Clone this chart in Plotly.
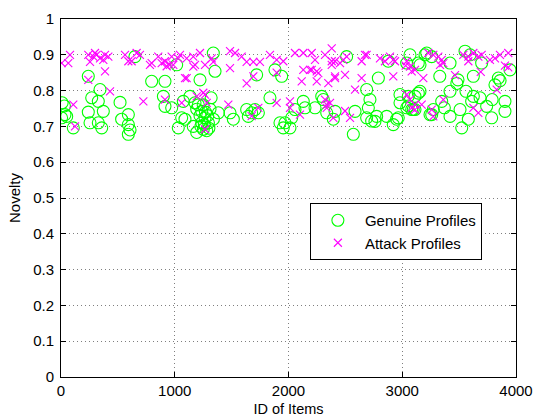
import plotly.graph_objects as go

# Genuine profiles (item id, novelty)
genuine_x = [10, 30, 35, 5, 50, 108, 240, 343, 270, 328, 240, 372, 255, 328, 358,
             519, 533, 592, 592, 607, 592, 650, 797, 914, 1017, 900, 914, 973, 1075, 1061, 1031,
             1222, 1090, 1134, 1178, 1193, 1222, 1237, 1251, 1281, 1310, 1207, 1266, 1296, 1163, 1237, 1193,
             1250, 1270, 1290, 1230, 1260, 1300, 1320, 1340,
             1339, 1354, 1720, 1881, 1940, 1837, 1925, 1969, 2028, 2130,
             1383, 1486, 1515, 1632, 1676, 1705, 1735, 1647, 1954,
             2057, 2145, 2233, 2292, 2306, 2336, 2409, 2394, 2013, 2585, 2570,
             2511, 2877, 3068, 3200, 3141, 2790, 2687, 2716, 2980, 3053, 3141, 3039, 3097, 3244,
             2687, 2760, 2863, 2921, 2965,
             2702, 2775, 2731, 2951, 2980, 3053, 3083, 3112, 3156, 3112, 3039, 3156, 3259,
             3215, 3259, 3420, 3552, 3596, 3698, 3947, 3330, 3490, 3480, 3625, 3845, 3860, 3815,
             3420, 3560, 3625, 3610, 3347, 3790, 3684, 3903, 3370, 3508, 3742, 3903, 3420, 3786, 3581, 3523, 3273]
genuine_y = [0.766, 0.757, 0.733, 0.724, 0.728, 0.696, 0.84, 0.803, 0.78, 0.77, 0.74, 0.742, 0.71, 0.71, 0.696,
             0.767, 0.72, 0.733, 0.705, 0.69, 0.678, 0.895, 0.826, 0.826, 0.872, 0.784, 0.756, 0.752, 0.77, 0.724, 0.696,
             0.83, 0.72, 0.784, 0.766, 0.748, 0.73, 0.71, 0.692, 0.688, 0.748, 0.76, 0.724, 0.71, 0.70, 0.742, 0.683,
             0.76, 0.74, 0.73, 0.70, 0.705, 0.695, 0.78, 0.72,
             0.905, 0.854, 0.844, 0.858, 0.84, 0.78, 0.71, 0.71, 0.724, 0.77,
             0.738, 0.738, 0.72, 0.747, 0.738, 0.747, 0.738, 0.728, 0.696,
             0.747, 0.752, 0.752, 0.784, 0.775, 0.738, 0.742, 0.72, 0.696, 0.742, 0.678,
             0.895, 0.882, 0.90, 0.90, 0.877, 0.835, 0.803, 0.775, 0.789, 0.784, 0.793, 0.752, 0.747, 0.733,
             0.724, 0.714, 0.728, 0.705, 0.724,
             0.752, 0.728, 0.715, 0.72, 0.766, 0.757, 0.747, 0.747, 0.798, 0.784, 0.877, 0.872, 0.733,
             0.905, 0.895, 0.877, 0.91, 0.90, 0.877, 0.858, 0.84, 0.83, 0.82, 0.84, 0.835, 0.828, 0.816,
             0.798, 0.798, 0.784, 0.77, 0.77, 0.775, 0.78, 0.77, 0.752, 0.747, 0.756, 0.742, 0.728, 0.724, 0.72, 0.696, 0.747]

# Attack profiles (item id, novelty)
attack_x = [6, 79, 64, 240, 284, 313, 343, 387, 416, 255, 299, 372,
            563, 665, 694, 592, 621, 797, 855, 914, 958, 973, 1031,
            387, 240, 431, 724, 914, 108, 123,
            1105, 782, 885, 929, 987, 1178, 1266,
            1061, 1193, 1266, 1281, 1266,
            1046, 1105, 1163, 1222, 1325, 1339, 1486, 1530, 1588, 1632, 1691, 1749, 1837, 1896, 1954, 2057, 2130,
            1163, 1486, 1090, 1691, 1632, 1896, 2130, 2116, 1896, 2013, 2013, 1251, 1676,
            1471, 1735,
            2189, 2248, 2248, 2350, 2497, 2409, 2585, 2101, 2365, 2336, 2497, 2541, 2380, 2453,
            2204, 2233, 2321, 2380, 2380, 2409, 2482, 2511, 2672, 2687, 2804, 2892, 2921, 3039, 3068, 3112,
            2204, 2262, 2409, 2643, 2921, 2321, 2336, 2394, 3039, 3112,
            2643, 2848, 2936, 3030, 3083, 3185, 3068, 3083, 3112, 3171, 3259, 3273,
            3229, 3273, 3317, 3347, 3361, 3332,
            3537, 3581, 3625, 3669, 3698, 3581,
            3771, 3815, 3859, 3932, 3903, 3932,
            3464, 3690, 3830, 3361, 3625, 3669]
attack_y = [0.877, 0.90, 0.877, 0.90, 0.895, 0.90, 0.89, 0.90, 0.895, 0.88, 0.905, 0.886,
            0.90, 0.905, 0.90, 0.882, 0.882, 0.877, 0.895, 0.882, 0.872, 0.895, 0.89,
            0.854, 0.83, 0.798, 0.77, 0.775, 0.761, 0.70,
            0.835, 0.872, 0.877, 0.868, 0.872, 0.872, 0.872,
            0.766, 0.784, 0.789, 0.766, 0.692,
            0.90, 0.89, 0.895, 0.905, 0.89, 0.88, 0.91, 0.905, 0.895, 0.88, 0.88, 0.88, 0.90, 0.886, 0.882, 0.905, 0.905,
            0.867, 0.863, 0.835, 0.84, 0.82, 0.85, 0.858, 0.826, 0.766, 0.77, 0.752, 0.794, 0.729,
            0.761, 0.752,
            0.858, 0.854, 0.826, 0.821, 0.844, 0.84, 0.803, 0.733, 0.766, 0.752, 0.743, 0.724, 0.872, 0.877,
            0.905, 0.886, 0.90, 0.918, 0.882, 0.882, 0.886, 0.895, 0.90, 0.90, 0.89, 0.895, 0.886, 0.882, 0.867, 0.858,
            0.858, 0.849, 0.835, 0.835, 0.84, 0.775, 0.761, 0.724, 0.789, 0.761,
            0.882, 0.882, 0.882, 0.87, 0.854, 0.835, 0.775, 0.752, 0.747, 0.761, 0.747, 0.728,
            0.905, 0.90, 0.895, 0.886, 0.877, 0.872,
            0.90, 0.895, 0.905, 0.895, 0.90, 0.882,
            0.886, 0.89, 0.90, 0.905, 0.87, 0.865,
            0.843, 0.852, 0.803, 0.775, 0.752, 0.738]

x_ticks = [0, 1000, 2000, 3000, 4000]
y_ticks = [0, 0.1, 0.2, 0.3, 0.4, 0.5, 0.6, 0.7, 0.8, 0.9, 1]

FONT = "Liberation Sans, Arial, sans-serif"

fig = go.Figure()
fig.add_trace(go.Scatter(
    x=genuine_x, y=genuine_y, mode="markers", name="Genuine Profiles",
    marker=dict(symbol="circle-open", size=12, color="#00ff00",
                line=dict(width=1.1, color="#00ff00")),
))
fig.add_trace(go.Scatter(
    x=attack_x, y=attack_y, mode="markers", name="Attack Profiles",
    marker=dict(symbol="x-thin", size=8, color="#ff00ff",
                line=dict(width=1.1, color="#ff00ff")),
))

axis_common = dict(
    showline=True, linecolor="black", linewidth=1, mirror="ticks",
    ticks="inside", ticklen=5, tickcolor="black", tickwidth=1,
    showgrid=True, gridcolor="rgba(0,0,0,0.5)", griddash="1px,3px", gridwidth=1,
    zeroline=False, automargin=False,
    tickfont=dict(family=FONT, size=15, color="black"),
)

fig.update_xaxes(range=[0, 4000], tickvals=x_ticks, ticktext=[str(v) for v in x_ticks],
                 title=dict(text="ID of Items", font=dict(family=FONT, size=14.5, color="black"), standoff=6),
                 ticklabelstandoff=0,
                 **axis_common)
fig.update_yaxes(range=[0, 1], tickvals=y_ticks, ticktext=[("%g" % v) for v in y_ticks],
                 title=dict(text="Novelty", font=dict(family=FONT, size=15, color="black"), standoff=8),
                 ticklabelstandoff=3,
                 **axis_common)

fig.update_layout(
    width=535, height=417,
    margin=dict(l=61, r=19, t=19, b=40),
    paper_bgcolor="white", plot_bgcolor="white",
    font=dict(family=FONT, size=15, color="black"),
    showlegend=True,
    legend=dict(x=0.547, y=0.486, xanchor="left", yanchor="top",
                bgcolor="white", bordercolor="black", borderwidth=1,
                font=dict(family=FONT, size=15, color="black"),
                itemwidth=44, entrywidth=128, entrywidthmode="pixels",
                tracegroupgap=0),
)

fig.write_html("out.html")
